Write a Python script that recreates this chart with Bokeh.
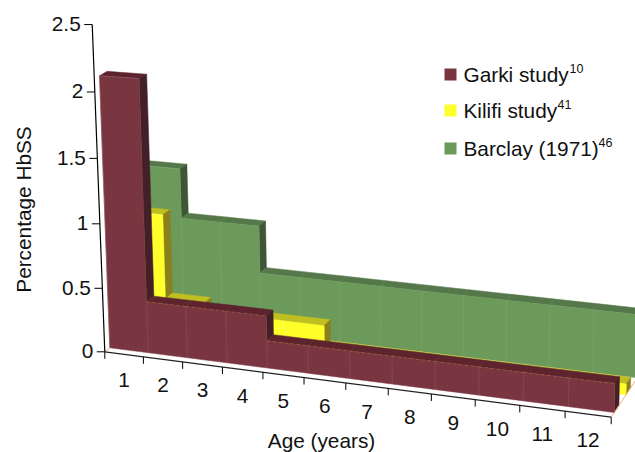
from bokeh.plotting import figure
from bokeh.models import Range1d, ColumnDataSource
from bokeh.core.properties import value
from bokeh.embed import file_html
from bokeh.resources import INLINE
import math

ages = ["1","2","3","4","5","6","7","8","9","10","11","12"]
y_ticks = [0, 0.5, 1, 1.5, 2, 2.5]
y_tick_labels = ["0","0.5","1","1.5","2","2.5"]
garki = [2.1,0.4,0.4,0.4,0.21,0.21,0.21,0.21,0.21,0.21,0.21,0.21]
kilifi = [0.97,0.31,0.0,0.245,0.245,0.08,0.08,0.08,0.08,0.08,0.08,0.08]
barclay = [1.23,0.84,0.84,0.47,0.47,0.47,0.47,0.47,0.47,0.47,0.47,0.47]
names = ["Garki study","Kilifi study","Barclay (1971)"]
refs = ["10","41","46"]

W, H = 635, 452
FONT = value("Liberation Sans")

# 3D projection of the chart box (age position, value, depth) to the page
def P(a, v, d):
    w = 1 - 0.00766*a - 0.01466*v + 0.0043*d
    return (104.3 + (38.32*a - 4.85*v + 5.02*d)/w,
            351.3 + (4.95*a - 126.1*v - 4.01*d)/w)

p = figure(width=W, height=H, output_backend="svg", toolbar_location=None,
           x_range=Range1d(0, W), y_range=Range1d(H, 0), min_border=0,
           outline_line_color=None, background_fill_color="white", border_fill_color="white")
p.xaxis.visible = False
p.yaxis.visible = False
p.grid.visible = False

series = [
    (barclay, 8.7, 10.2, "#6c9a5b", "#55784a", "#3f5636", "#86ab78"),
    (kilifi, 4.85, 6.35, "#ffff2b", "#bfbf22", "#8a801c", "#ffff80"),
    (garki, 1.0, 2.5, "#7a3640", "#5d2430", "#432029", "#94606a"),
]

def patch(pts, col):
    return [q[0] for q in pts], [q[1] for q in pts], col

for vals, d0, d1, front, top, side, light in series:
    xs, ys, cs = [], [], []
    n = len(vals)
    for i, v in enumerate(vals):
        a, b, c = patch([P(i,v,d0), P(i+1,v,d0), P(i+1,v,d1), P(i,v,d1)], top)
        xs.append(a); ys.append(b); cs.append(c)
        nxt = vals[i+1] if i+1 < n else 0
        if nxt < v:
            a, b, c = patch([P(i+1,nxt,d0), P(i+1,v,d0), P(i+1,v,d1), P(i+1,nxt,d1)], side)
            xs.append(a); ys.append(b); cs.append(c)
    outline = [P(0,0,d0)]
    for i, v in enumerate(vals):
        outline += [P(i,v,d0), P(i+1,v,d0)]
    outline.append(P(n,0,d0))
    a, b, c = patch(outline, front)
    xs.append(a); ys.append(b); cs.append(c)
    p.patches("xs", "ys", fill_color="c", line_color="c", line_width=0.5,
              source=ColumnDataSource(dict(xs=xs, ys=ys, c=cs)))
    gx, gy = [], []
    for i in range(1, n):
        lo = min(vals[i-1], vals[i])
        q0, q1 = P(i,0,d0), P(i,lo,d0)
        gx.append([q0[0], q1[0]]); gy.append([q0[1], q1[1]])
    p.multi_line(gx, gy, line_color=light, line_width=0.7, line_alpha=0.55)
    # pale edge along the left and the top of the front face
    ex = [q[0] for q in outline[:3]]
    ey = [q[1] for q in outline[:3]]
    p.line(ex, ey, line_color=light, line_width=0.8, line_alpha=0.7)

# thin dashed edge on the low part of the front series
edge = [P(i, garki[i], 1.0) for i in range(1, 12)] + [P(12, garki[11], 1.0)]
ex, ey = [], []
for i in range(1, 12):
    ex += [P(i, garki[i], 1.0)[0], P(i+1, garki[i], 1.0)[0], float("nan")]
    ey += [P(i, garki[i], 1.0)[1], P(i+1, garki[i], 1.0)[1], float("nan")]
p.line(ex, ey, line_color="#b0703c", line_width=0.7, line_dash="3 3", line_alpha=0.8)

# floor edges
for a_end, d_end in [(0, 1.0), (12, 12.0)]:
    q0, q1 = P(a_end,0,0), P(a_end,0,d_end)
    p.line([q0[0], q1[0]], [q0[1], q1[1]], line_color="#f3b27a", line_width=1)

# axes
q0, q1 = P(0,0,0), P(0,2.5,0)
p.line([q0[0], q1[0]], [q0[1], q1[1]], line_color="black", line_width=1.2)
q1 = P(12,0,0)
p.line([q0[0], q1[0]], [q0[1], q1[1]], line_color="#222222", line_width=1.2)

tx0, ty0, tx1, ty1 = [], [], [], []
for v in y_ticks:
    q = P(0,v,0)
    tx0.append(q[0]-8); ty0.append(q[1]); tx1.append(q[0]); ty1.append(q[1])
for i in range(13):
    q = P(i,0,0)
    tx0.append(q[0]); ty0.append(q[1]); tx1.append(q[0]); ty1.append(q[1]+7)
p.segment(tx0, ty0, tx1, ty1, line_color="black", line_width=1)

p.text([P(0,v,0)[0]-11.5 for v in y_ticks], [P(0,v,0)[1]-0.5 for v in y_ticks], text=y_tick_labels,
       text_font=FONT, text_font_size="20.8px", text_align="right", text_baseline="middle", text_color="#111111")
p.text([P(i+0.5,0,0)[0] for i in range(12)], [P(i+0.5,0,0)[1]+26 for i in range(12)], text=ages,
       text_font=FONT, text_font_size="20.8px", text_align="center", text_baseline="middle", text_color="#111111")
p.text([321], [440], text=["Age (years)"], text_font=FONT, text_font_size="20.8px",
       text_align="center", text_baseline="middle", text_color="#111111")
p.text([23], [209], text=["Percentage HbSS"], text_font=FONT, text_font_size="20.8px", angle=math.pi/2,
       text_align="center", text_baseline="middle", text_color="#111111")

# legend
leg_colors = ["#7a3640", "#ffff2b", "#6c9a5b"]
leg_mid = [74, 110, 148]
leg_sup_x = [569, 557, 598]
p.rect([450]*3, leg_mid, width=12, height=12, fill_color=leg_colors, line_color=None)
p.text([463]*3, leg_mid, text=names, text_font=FONT, text_font_size="20.8px",
       text_align="left", text_baseline="middle", text_color="#111111")
p.text(leg_sup_x, [m-6.5 for m in leg_mid], text=refs, text_font=FONT, text_font_size="12.5px",
       text_align="left", text_baseline="middle", text_color="#111111")

open("out.html", "w").write(file_html(p, INLINE))
